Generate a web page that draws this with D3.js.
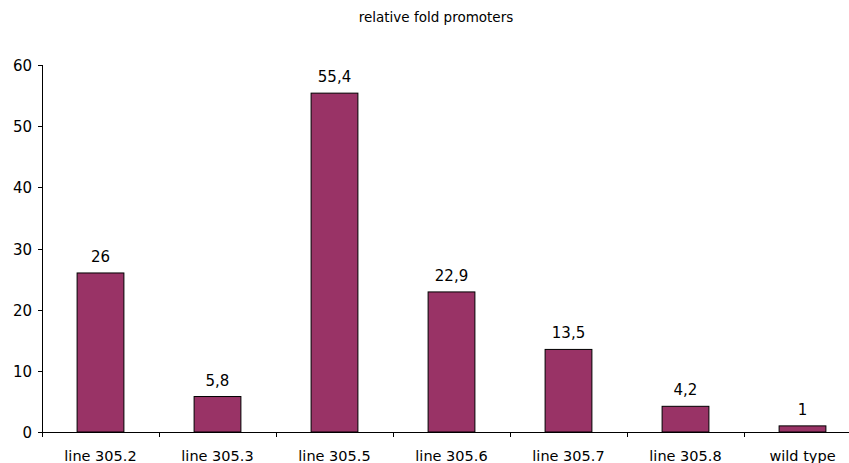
<!DOCTYPE html>
<html><head><meta charset="utf-8">
<script src="https://cdn.jsdelivr.net/npm/d3@7"></script>
<style>body{margin:0;background:#fff}svg{display:block}text{font-family:"DejaVu Sans",Verdana,sans-serif;fill:#000}</style>
</head><body><svg width="849" height="463"></svg>
<script>
const categories = ["line 305.2","line 305.3","line 305.5","line 305.6","line 305.7","line 305.8","wild type"];
const values = [26, 5.8, 55.4, 22.9, 13.5, 4.2, 1];
const valueLabels = ["26","5,8","55,4","22,9","13,5","4,2","1"];
const yTicks = [0,10,20,30,40,50,60];
const title = "relative fold promoters";

const svg = d3.select("svg");
const x = d3.scaleBand().domain(categories).range([42, 861]).padding(0);
const y = d3.scaleLinear().domain([0,60]).range([432, 65]);
const bw = x.bandwidth()*0.4;

svg.append("text").attr("x",436).attr("y",22).attr("text-anchor","middle")
  .style("font-size","13.5px").text(title);

svg.selectAll("rect.bar").data(values).join("rect").attr("class","bar")
  .attr("x",(d,i)=>x(categories[i])+x.bandwidth()/2-bw/2)
  .attr("y",d=>y(d)).attr("width",bw).attr("height",d=>y(0)-y(d))
  .attr("fill","#993366").attr("stroke","#000").attr("stroke-width",1);

svg.selectAll("text.val").data(values).join("text").attr("class","val")
  .attr("x",(d,i)=>x(categories[i])+x.bandwidth()/2).attr("y",d=>y(d)-11)
  .attr("text-anchor","middle").style("font-size","15px").text((d,i)=>valueLabels[i]);

// y axis
const ya = svg.append("g");
ya.append("line").attr("x1",42.5).attr("x2",42.5).attr("y1",y(60)).attr("y2",y(0)).attr("stroke","#000");
ya.selectAll("line.t").data(yTicks).join("line").attr("class","t")
  .attr("x1",38).attr("x2",42.5).attr("y1",d=>Math.round(y(d))+0.5).attr("y2",d=>Math.round(y(d))+0.5).attr("stroke","#000");
ya.selectAll("text").data(yTicks).join("text").attr("x",32).attr("y",d=>y(d)+6)
  .attr("text-anchor","end").style("font-size","15px").text(d=>d);

// x axis
const xa = svg.append("g");
xa.append("line").attr("x1",38).attr("x2",861).attr("y1",432.5).attr("y2",432.5).attr("stroke","#000");
const bounds = categories.map(c=>x(c)).concat([x.range()[1]]);
xa.selectAll("line.t").data(bounds).join("line").attr("class","t")
  .attr("x1",d=>Math.round(d)+0.5).attr("x2",d=>Math.round(d)+0.5).attr("y1",432.5).attr("y2",437).attr("stroke","#000");
xa.selectAll("text").data(categories).join("text")
  .attr("x",d=>x(d)+x.bandwidth()/2).attr("y",461).attr("text-anchor","middle")
  .style("font-size","14.5px").text(d=>d);
</script></body></html>
